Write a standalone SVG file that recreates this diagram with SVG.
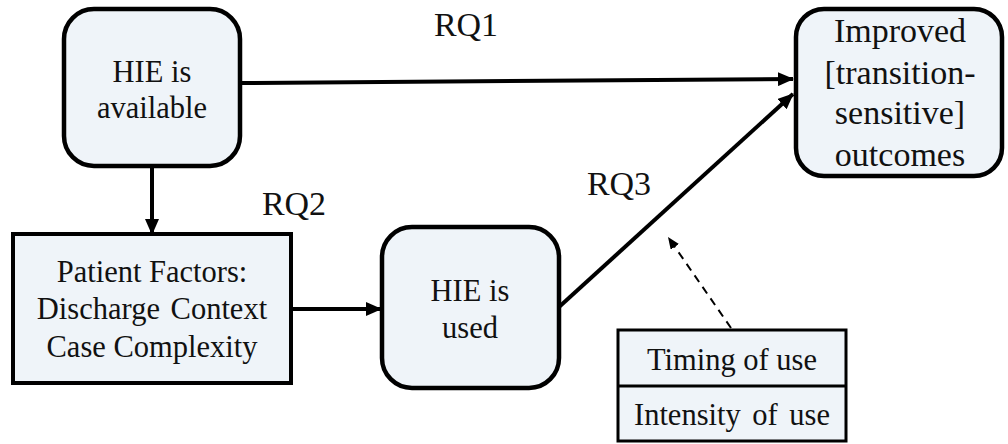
<svg xmlns="http://www.w3.org/2000/svg" width="1008" height="444" viewBox="0 0 1008 444">
  <defs>
    <style>
      .node { fill: #EFF4F9; stroke: #000; }
      .rnd { stroke-width: 4.5; }
      .sq { stroke-width: 4; }
      .tbl { stroke-width: 3; }
      text { font-family: "Liberation Serif", "Times New Roman", serif; fill: #111; text-anchor: middle; }
      .t { font-size: 30.5px; }
      .big { font-size: 34px; }
      .lbl { font-size: 34px; }
      .conn { stroke: #000; stroke-width: 4; fill: none; }
      .dash { stroke: #000; stroke-width: 2; stroke-dasharray: 8 6; fill: none; }
    </style>
    <marker id="ah" markerUnits="userSpaceOnUse" markerWidth="16" markerHeight="14" refX="15" refY="7" orient="auto">
      <path d="M0,0 L16,7 L0,14 z" fill="#000"/>
    </marker>
    <marker id="ahs" markerUnits="userSpaceOnUse" markerWidth="12" markerHeight="10" refX="12" refY="5" orient="auto">
      <path d="M0,0 L12,5 L0,10 z" fill="#000"/>
    </marker>
  </defs>

  <g id="connectors">
    <line class="conn" x1="242" y1="83" x2="793" y2="79" marker-end="url(#ah)"/>
    <line class="conn" x1="152" y1="167" x2="152" y2="234" marker-end="url(#ah)"/>
    <line class="conn" x1="291" y1="309" x2="381" y2="309" marker-end="url(#ah)"/>
    <line class="conn" x1="559" y1="307" x2="793" y2="94" marker-end="url(#ah)"/>
    <line class="dash" x1="731" y1="328" x2="668" y2="237" marker-end="url(#ahs)"/>
  </g>

  <g id="labels">
    <text class="lbl" x="466" y="36">RQ1</text>
    <text class="lbl" x="294" y="215">RQ2</text>
    <text class="lbl" x="619" y="195">RQ3</text>
  </g>

  <g id="hie-available">
    <rect class="node rnd" x="64" y="9" width="176" height="157" rx="30" ry="30"/>
    <text class="t" x="152" y="82">HIE is</text>
    <text class="t" x="152" y="118">available</text>
  </g>

  <g id="improved-outcomes">
    <rect class="node rnd" x="796" y="9" width="206" height="167" rx="28" ry="28"/>
    <text class="big" x="900" y="42">Improved</text>
    <text class="big" x="900" y="84">[transition-</text>
    <text class="big" x="900" y="124">sensitive]</text>
    <text class="big" x="900" y="166">outcomes</text>
  </g>

  <g id="patient-factors">
    <rect class="node sq" x="13" y="234" width="278" height="149"/>
    <text class="t" x="152" y="282">Patient Factors:</text>
    <text class="t" x="152" y="319" word-spacing="3">Discharge Context</text>
    <text class="t" x="152" y="357">Case Complexity</text>
  </g>

  <g id="hie-used">
    <rect class="node rnd" x="382" y="227" width="177" height="161" rx="30" ry="30"/>
    <text class="t" x="470" y="301">HIE is</text>
    <text class="t" x="470" y="338">used</text>
  </g>

  <g id="use-measures">
    <rect class="node tbl" x="618" y="330" width="228" height="111"/>
    <line x1="618" y1="386" x2="846" y2="386" stroke="#000" stroke-width="3"/>
    <text class="t" x="732" y="370">Timing of use</text>
    <text class="t" x="732" y="425" word-spacing="4">Intensity of use</text>
  </g>
</svg>
